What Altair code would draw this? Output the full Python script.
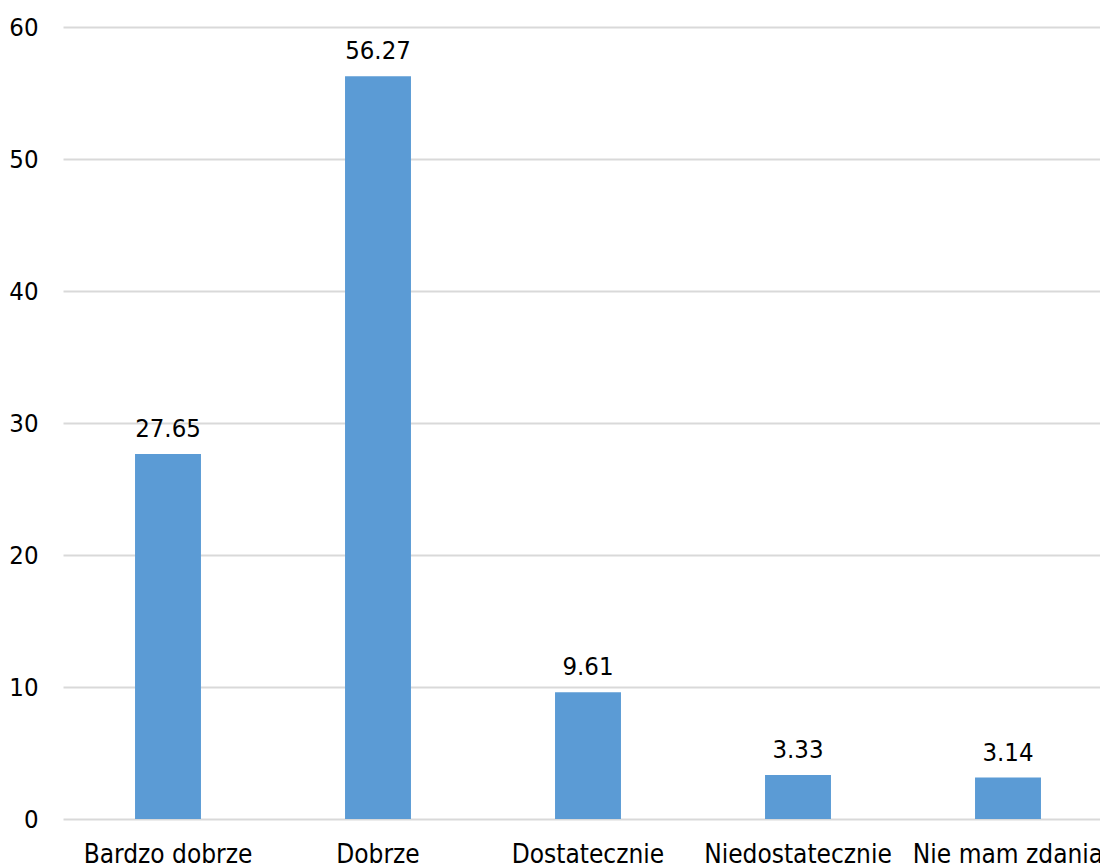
import altair as alt
import pandas as pd

# Ocena: rozkład odpowiedzi (%)
categories = ["Bardzo dobrze", "Dobrze", "Dostatecznie", "Niedostatecznie", "Nie mam zdania"]
values = [27.65, 56.27, 9.61, 3.33, 3.14]

df = pd.DataFrame({"kategoria": categories, "procent": values})
df["etykieta"] = [f"{v:.2f}" for v in values]

FONT = "DejaVu Sans Condensed"

x = alt.X(
    "kategoria:N",
    sort=categories,
    title=None,
    scale=alt.Scale(range=[0, 1050], paddingInner=0.686, paddingOuter=0.343),
    axis=alt.Axis(
        labelAngle=0,
        domain=False,
        ticks=False,
        grid=False,
        labelFontSize=26,
        labelFont=FONT,
        labelColor="#000000",
        labelPadding=22,
        labelOverlap=False,
        labelLimit=0,
    ),
)

y = alt.Y(
    "procent:Q",
    title=None,
    scale=alt.Scale(domain=[0, 60], nice=False),
    axis=alt.Axis(
        values=[0, 10, 20, 30, 40, 50, 60],
        domain=False,
        ticks=False,
        grid=True,
        gridColor="#d9d9d9",
        gridWidth=2,
        labelFontSize=25.5,
        labelFont=FONT,
        labelColor="#000000",
        labelPadding=25,
    ),
)

bars = alt.Chart(df).mark_bar(color="#5b9bd5").encode(x=x, y=y)

labels = alt.Chart(df).mark_text(
    fontSize=25.5,
    font=FONT,
    color="#000000",
    baseline="alphabetic",
    dy=-17,
).encode(x=alt.X("kategoria:N", sort=categories), y="procent:Q", text="etykieta:N")

chart = (
    alt.layer(bars, labels)
    .properties(
        width=1037,
        height=792,
        autosize=alt.AutoSizeParams(type="none"),
        padding={"left": 63, "top": 27, "right": 0, "bottom": 48},
    )
    .configure(background="#ffffff", view=alt.ViewConfig(stroke=None))
)

chart.save("out.html", embed_options={"renderer": "svg", "actions": False})
